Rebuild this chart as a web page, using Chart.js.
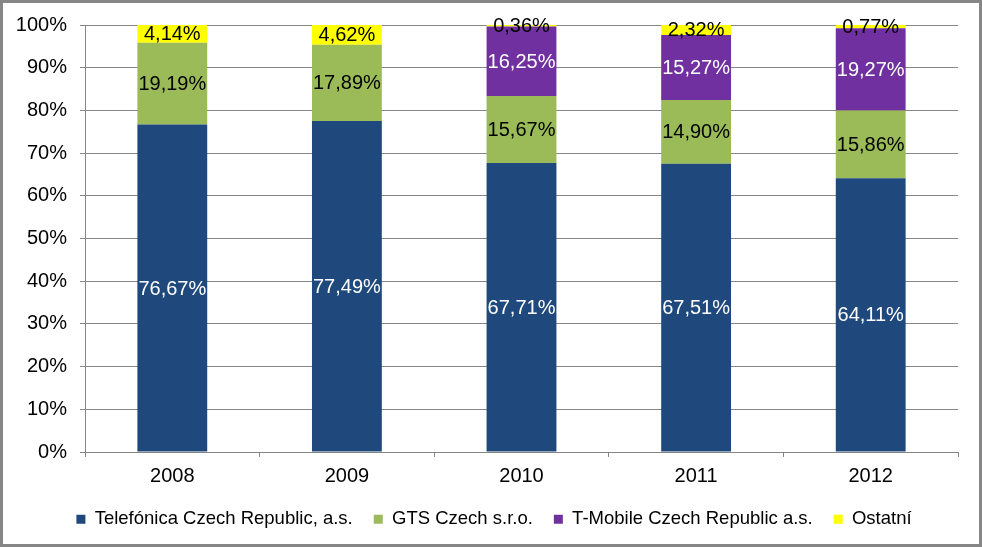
<!DOCTYPE html>
<html>
<head>
<meta charset="utf-8">
<script src="https://cdn.jsdelivr.net/npm/chart.js@4.4.1/dist/chart.umd.min.js"></script>
<style>
  html, body { margin: 0; padding: 0; background: #ffffff; }
  canvas { display: block; }
</style>
</head>
<body>
<canvas id="c" width="982" height="547"></canvas>
<script>
const years = ['2008', '2009', '2010', '2011', '2012'];
const telefonica = [76.67, 77.49, 67.71, 67.51, 64.11];
const gts = [19.19, 17.89, 15.67, 14.90, 15.86];
const tmobile = [0, 0, 16.25, 15.27, 19.27];
const ostatni = [4.14, 4.62, 0.36, 2.32, 0.77];
const seriesNames = ['Telefónica Czech Republic, a.s.', 'GTS Czech s.r.o.', 'T-Mobile Czech Republic a.s.', 'Ostatní'];
const yTicks = [0, 10, 20, 30, 40, 50, 60, 70, 80, 90, 100];

const FONT = '"Liberation Sans", Arial, sans-serif';
const GRID = '#868686';

const labelPlugin = {
  id: 'segLabels',
  afterDatasetsDraw(chart) {
    const ctx = chart.ctx;
    ctx.save();
    ctx.font = '20px ' + FONT;
    ctx.textAlign = 'center';
    ctx.textBaseline = 'middle';
    chart.data.datasets.forEach((ds, di) => {
      const meta = chart.getDatasetMeta(di);
      meta.data.forEach((el, i) => {
        const v = ds.data[i];
        if (!v) return;
        const y = (el.y + el.base) / 2;
        ctx.fillStyle = ds.labelColor;
        ctx.fillText(v.toFixed(2).replace('.', ',') + '%', el.x, y + 1);
      });
    });
    ctx.restore();
  }
};

const framePlugin = {
  id: 'frame',
  beforeDraw(chart) {
    const ctx = chart.ctx;
    ctx.save();
    ctx.fillStyle = '#ffffff';
    ctx.fillRect(0, 0, chart.width, chart.height);
    ctx.restore();
  },
  afterDraw(chart) {
    const ctx = chart.ctx;
    ctx.save();
    ctx.strokeStyle = '#868686';
    ctx.lineWidth = 3;
    ctx.strokeRect(1.5, 1.5, chart.width - 3, chart.height - 3);
    ctx.restore();
  }
};

const legendFitPlugin = {
  id: 'legendFit',
  beforeInit(chart) {
    const orig = chart.legend.fit;
    chart.legend.fit = function () {
      orig.call(this);
      this.height = 50;
    };
  },
  afterLayout(chart) {
    // centre the legend under the full frame width rather than the padded area
    chart.legend.left = 30;
    chart.legend.right = chart.width - 24;
  }
};

new Chart(document.getElementById('c'), {
  type: 'bar',
  data: {
    labels: years,
    datasets: [
      { label: seriesNames[0], data: telefonica, backgroundColor: '#1F497D', labelColor: '#ffffff' },
      { label: seriesNames[1], data: gts, backgroundColor: '#9BBB59', labelColor: '#000000' },
      { label: seriesNames[2], data: tmobile, backgroundColor: '#7030A0', labelColor: '#ffffff' },
      { label: seriesNames[3], data: ostatni, backgroundColor: '#FFFF00', labelColor: '#000000' }
    ]
  },
  options: {
    responsive: false,
    animation: false,
    devicePixelRatio: 1,
    categoryPercentage: 0.8,
    barPercentage: 0.5,
    borderWidth: 0,
    layout: { padding: { top: 24, right: 24, left: 0, bottom: 8 } },
    plugins: {
      tooltip: { enabled: false },
      legend: {
        position: 'bottom',
        labels: {
          boxWidth: 9,
          boxHeight: 9,
          padding: 21,
          color: '#000000',
          font: { family: FONT, size: 18.5 }
        }
      }
    },
    scales: {
      x: {
        stacked: true,
        afterFit(s) { s.height = 37; },
        grid: { display: true, drawOnChartArea: false, drawTicks: true, tickLength: 5, color: GRID, offset: true },
        border: { display: true, color: GRID, width: 1 },
        ticks: { color: '#000000', font: { family: FONT, size: 20 }, padding: 7 }
      },
      y: {
        stacked: true,
        min: 0,
        max: 100,
        afterFit(s) { s.width = 85; },
        afterBuildTicks(s) { s.ticks = yTicks.map(v => ({ value: v })); },
        grid: { color: GRID, tickLength: 5, drawTicks: true },
        border: { display: true, color: GRID, width: 1 },
        ticks: {
          color: '#000000',
          font: { family: FONT, size: 20 },
          padding: 13,
          callback: v => v + '%'
        }
      }
    }
  },
  plugins: [framePlugin, labelPlugin, legendFitPlugin]
});
</script>
</body>
</html>
